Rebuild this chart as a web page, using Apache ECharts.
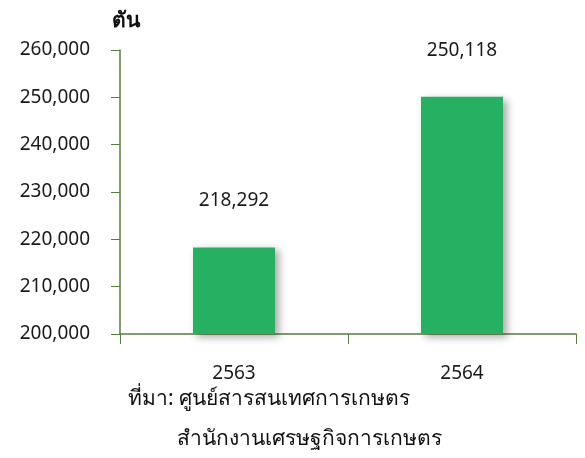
<!DOCTYPE html>
<html><head><meta charset="utf-8">
<script src="https://cdn.jsdelivr.net/npm/echarts@6/dist/echarts.min.js"></script>
<style>html,body{margin:0;padding:0;background:#fff}#c{width:585px;height:458px}</style>
</head><body><div id="c"></div>
<script>
const categories = ['2563', '2564'];
const values = [218292, 250118];
const unitLabel = 'ตัน';
const sourceLine1 = 'ที่มา: ศูนย์สารสนเทศการเกษตร';
const sourceLine2 = 'สำนักงานเศรษฐกิจการเกษตร';
const FONT = '"Noto Sans","DejaVu Sans",sans-serif';
const chart = echarts.init(document.getElementById('c'));
chart.setOption({
  animation: false,
  textStyle: {fontFamily: FONT},
  grid: {left: 120, right: 9, top: 50, bottom: 124},
  graphic: [
    {type: 'text', left: 112, top: 11, style: {text: unitLabel, font: 'bold 21px ' + FONT, fill: '#111'}},
    {type: 'text', left: 128, top: 389, style: {text: sourceLine1, font: '21px ' + FONT, fill: '#111'}},
    {type: 'text', left: 177, top: 429, style: {text: sourceLine2, font: '21px ' + FONT, fill: '#111'}}
  ],
  xAxis: {
    type: 'category', data: categories,
    axisLine: {lineStyle: {color: '#5a7d3c', width: 1.5}},
    axisTick: {show: true, length: 10, lineStyle: {color: '#5a7d3c'}},
    axisLabel: {color: '#1a1a1a', fontSize: 19, margin: 30, fontFamily: FONT}
  },
  yAxis: {
    type: 'value', min: 200000, max: 260000, interval: 10000,
    axisLine: {show: true, lineStyle: {color: '#5a7d3c', width: 1.5}},
    axisTick: {show: true, length: 9, lineStyle: {color: '#5a7d3c'}},
    splitLine: {show: false},
    axisLabel: {color: '#1a1a1a', fontSize: 19, margin: 30, fontFamily: FONT,
      formatter: v => v.toLocaleString('en-US')}
  },
  series: [{
    type: 'bar', data: values, barWidth: 82,
    itemStyle: {color: '#25b062', shadowColor: 'rgba(0,0,0,0.35)', shadowBlur: 8, shadowOffsetX: 4, shadowOffsetY: 3},
    label: {show: true, position: 'top', distance: 37, color: '#1a1a1a', fontSize: 19, fontFamily: FONT,
      formatter: p => p.value.toLocaleString('en-US')}
  }]
});
</script></body></html>
